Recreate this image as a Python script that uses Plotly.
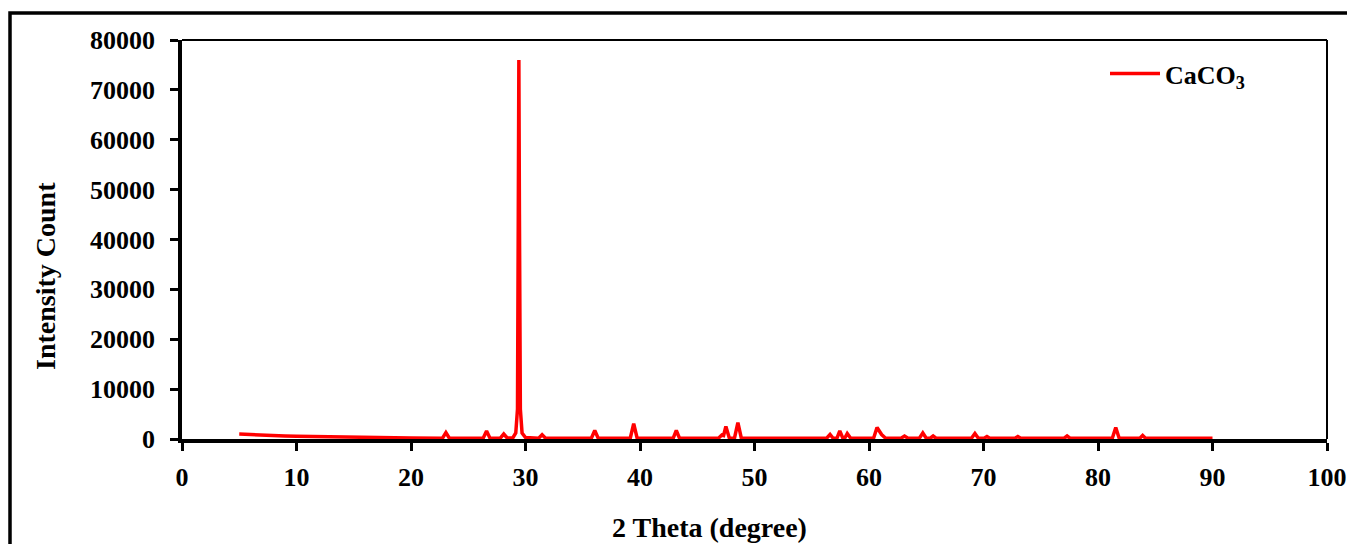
import plotly.graph_objects as go

two_theta = [5.0, 6.0, 7.0, 8.0, 9.0, 10.0, 12.0, 14.0, 16.0, 18.0, 20.0,
             22.75, 23.05, 23.35, 26.3, 26.6, 26.9, 27.8, 28.1, 28.4,
             28.9, 29.15, 29.3, 29.37, 29.42, 29.47, 29.55, 29.7, 30.0,
             31.15, 31.45, 31.75, 35.75, 36.05, 36.35, 39.15, 39.45, 39.75,
             42.9, 43.17, 43.45, 46.85, 47.15, 47.3, 47.5, 47.8, 48.25, 48.55, 48.85,
             56.3, 56.6, 56.85, 57.2, 57.45, 57.7, 57.9, 58.1, 58.4,
             60.4, 60.7, 60.95, 61.1, 61.45, 62.8, 63.1, 63.4, 64.4, 64.7, 65.0,
             65.35, 65.6, 65.85, 68.95, 69.25, 69.55, 70.05, 70.3, 70.55,
             72.75, 73.0, 73.25, 77.05, 77.3, 77.55, 81.25, 81.55, 81.85,
             83.65, 83.9, 84.15, 90.0]
intensity = [1000, 860, 760, 670, 600, 540, 450, 370, 300, 250, 200,
             160, 1300, 160, 160, 1600, 170, 170, 1000, 200,
             250, 1200, 6000, 45000, 76000, 45000, 6000, 1200, 300,
             160, 850, 160, 160, 1700, 160, 160, 3100, 160,
             160, 1700, 160, 160, 800, 700, 2500, 200, 160, 3300, 160,
             160, 900, 200, 160, 1600, 250, 250, 1100, 160,
             160, 2300, 1200, 900, 160, 160, 600, 160, 160, 1200, 160,
             160, 600, 160, 160, 1100, 160, 160, 500, 160,
             160, 500, 160, 160, 600, 160, 160, 2300, 160,
             160, 700, 160, 160]

x_ticks = [0, 10, 20, 30, 40, 50, 60, 70, 80, 90, 100]
y_ticks = [0, 10000, 20000, 30000, 40000, 50000, 60000, 70000, 80000]

FONT = "Liberation Serif"
fig = go.Figure()
fig.add_trace(go.Scatter(
    x=two_theta, y=intensity, mode="lines", name="<b>CaCO<sub>3</sub></b>",
    line=dict(color="#FF0000", width=3.5),
))

# page body has an 8px margin: figure is 1347x536 so the plot area lands at 182..1327, 40..439
W, H = 1347, 536
L, R, T, B = 174, 28, 32, 105
PW, PH = W - L - R, H - T - B


def px(xpix):
    return (xpix - 182) / PW


def py(ypix):
    return (439 - ypix) / PH


fig.update_layout(
    width=W, height=H,
    margin=dict(l=L, r=R, t=T, b=B, autoexpand=False),
    paper_bgcolor="white", plot_bgcolor="white",
    font=dict(family=FONT, size=26, color="black"),
    showlegend=True,
    legend=dict(x=px(1105), y=py(50), xanchor="left", yanchor="top",
                bgcolor="rgba(0,0,0,0)", itemwidth=50,
                font=dict(family=FONT, size=26, color="black")),
    xaxis=dict(range=[0, 100], tickvals=x_ticks, ticktext=[f"<b>{v}</b>" for v in x_ticks],
               automargin=False,
               showgrid=False, zeroline=False, showline=True, linecolor="black",
               linewidth=3.5, ticks="outside", ticklen=8, tickwidth=3, tickcolor="black",
               ticklabelstandoff=4,
               tickfont=dict(family=FONT, size=26, color="black")),
    yaxis=dict(range=[0, 80000], tickvals=y_ticks, ticktext=[f"<b>{v}</b>" for v in y_ticks],
               automargin=False,
               showgrid=False, zeroline=False, showline=True, linecolor="black",
               linewidth=3.5, ticks="outside", ticklen=8, tickwidth=3, tickcolor="black",
               ticklabelstandoff=10,
               tickfont=dict(family=FONT, size=26, color="black")),
    shapes=[
        dict(type="line", xref="paper", yref="paper", x0=0, x1=1, y0=1, y1=1,
             line=dict(color="black", width=2)),
        dict(type="line", xref="paper", yref="paper", x0=1, x1=1, y0=0, y1=1,
             line=dict(color="black", width=2)),
        dict(type="rect", xref="paper", yref="paper", x0=px(10), x1=px(1380),
             y0=py(600), y1=py(13), line=dict(color="black", width=3.5),
             layer="below"),
    ],
    annotations=[
        dict(text="<b>2 Theta (degree)</b>", xref="paper", yref="paper",
             x=px(709), y=py(527), xanchor="center",
             yanchor="middle", showarrow=False,
             font=dict(family=FONT, size=28, color="black")),
        dict(text="<b>Intensity Count</b>", xref="paper", yref="paper",
             x=px(45), y=py(276), xanchor="center",
             yanchor="middle", showarrow=False, textangle=-90,
             font=dict(family=FONT, size=28, color="black")),
    ],
)

fig.write_html("out.html")
